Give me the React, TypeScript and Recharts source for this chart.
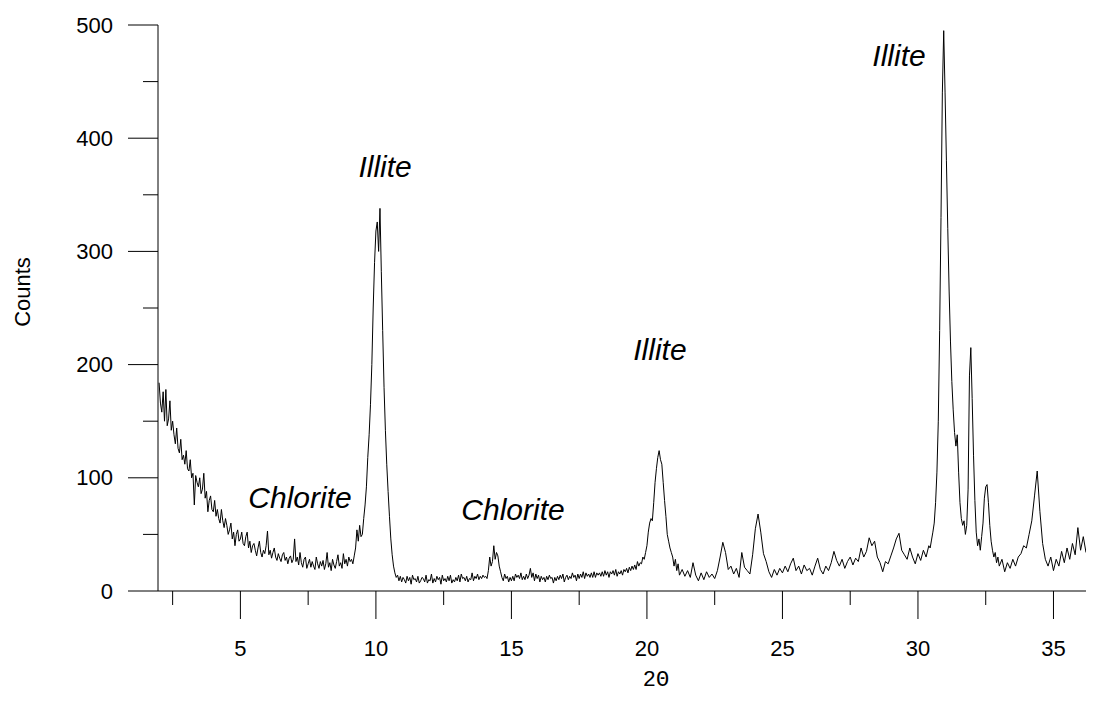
import { LineChart, Line, XAxis, YAxis, ReferenceDot } from "recharts";

// XRD scan: counts
// 0.05° steps where the trace is fuzzy or sharp, 0.1° elsewhere
const lowAngleStart = 2.0;
const lowAngleCounts = [
    184, 166, 158, 176, 150, 178, 146, 152, 168, 142,
    150, 138, 130, 144, 126, 122, 134, 116, 120, 112,
    124, 108, 106, 116, 100, 104, 76, 102, 96, 92,
    100, 86, 90, 104, 82, 88, 70, 80, 84, 72,
    70, 80, 66, 72, 64, 60, 72, 62, 56, 64,
    58, 50, 54, 60, 46, 52, 40, 50, 54, 44,
    46, 52, 42, 40, 48, 52, 38, 44, 34, 40,
    42, 36, 31, 38, 44, 34, 30, 36, 33, 40,
    53, 32, 36, 29, 34, 38, 30, 27, 33, 29,
    26, 32, 34, 27, 30, 24, 29, 31, 25, 28,
    46, 26, 30, 23, 34, 25, 21, 28, 30, 20,
    24, 28, 21, 26, 22, 19, 30, 24, 20, 26,
    22, 27, 19, 24, 34, 21, 25, 18, 28, 23,
    20, 26, 32, 22, 25, 20, 33, 24, 28, 22,
    30, 26, 28, 24, 31, 38, 54, 44, 58, 48,
];

const illite10Start = 9.5;
const illite10Counts = [
    50, 64, 76, 92, 118, 138, 165, 200, 250, 290,
    318, 326, 300, 338, 282, 230, 180, 142, 112, 88,
    66, 46, 32, 22, 16, 12, 14, 9, 13, 8, 12,
];

const midAngleStart = 11.05;
const midAngleCounts = [
    10, 7, 13, 9, 12, 6, 14, 10, 11, 8,
    13, 7, 9, 12, 11, 8, 14, 7, 10, 9,
    15, 7, 11, 8, 13, 10, 12, 6, 14, 9,
    11, 8, 13, 9, 14, 7, 10, 8, 12, 9,
    14, 8, 15, 11, 12, 9, 13, 8, 11, 10,
    16, 9, 13, 11, 15, 10, 13, 11, 14, 12,
    13, 11, 18, 30, 22, 26, 40, 28, 34, 31,
    22, 17, 12, 9, 15, 11, 13, 8, 12, 9,
    13, 9, 15, 12, 14, 11, 16, 10, 13, 10,
    15, 11, 14, 20, 12, 16, 9, 15, 11, 14,
    8, 13, 10, 12, 8, 13, 10, 14, 11, 12,
    7, 12, 9, 13, 10, 14, 11, 15, 8, 12,
    14, 10, 13, 11, 16, 12, 14, 9, 15, 11,
    15, 12, 17, 11, 16, 13, 15, 12, 16, 12,
    17, 12, 16, 14, 16, 13, 17, 13, 18, 14,
    17, 12, 17, 15, 18, 14, 19, 13, 17, 15,
    18, 14, 19, 17, 20, 16, 21, 18, 22, 19,
    23, 19, 26, 22, 25, 24, 30, 28, 34,
];

const illite20Start = 20.0;
const illite20Counts = [
    40, 52, 60, 64, 62, 78, 96, 108, 118, 124,
    116, 112, 96, 80, 66, 50, 44, 38, 34, 30,
    22, 28, 18, 24, 14,
];

const highAngleStart = 21.3;
const highAngleCounts = [
    19, 13, 18, 12, 25, 14, 9, 16, 10, 17,
    12, 15, 11, 18, 30, 43, 34, 19, 22, 15,
    20, 12, 34, 21, 18, 15, 32, 55, 68, 52,
    33, 26, 17, 12, 19, 14, 20, 16, 22, 17,
    24, 29, 18, 22, 15, 23, 18, 20, 14, 22,
    29, 19, 15, 22, 18, 25, 35, 27, 22, 28,
    20, 26, 30, 23, 29, 26, 38, 30, 35, 47,
    40, 44, 30, 25, 17, 26, 24, 31, 38, 46,
    51, 36, 32, 28, 38, 30, 24, 33, 27, 36,
    30, 40,
];

const illite31Start = 30.45;
const illite31Counts = [
    38, 45, 52, 60, 78, 105, 150, 230, 330, 440,
    495, 440, 380, 320, 265, 220, 185, 160, 140, 128,
    138, 105, 78, 64, 58, 62, 50, 58, 90, 190,
    215, 170, 120, 80, 52, 40, 46, 36, 48, 60,
    82, 92, 94, 78, 58, 44, 36, 30, 34, 25,
    30, 22,
];

const tailStart = 33.1;
const tailCounts = [
    28, 17, 25, 20, 28, 22, 30, 33, 40, 38,
    50, 62, 84, 106, 70, 42, 28, 22, 30, 18,
    28, 22, 35, 25, 38, 28, 42, 32, 56, 36,
    48, 34,
];

const segments = [
    { start: lowAngleStart, step: 0.05, counts: lowAngleCounts },
    { start: illite10Start, step: 0.05, counts: illite10Counts },
    { start: midAngleStart, step: 0.05, counts: midAngleCounts },
    { start: illite20Start, step: 0.05, counts: illite20Counts },
    { start: highAngleStart, step: 0.1, counts: highAngleCounts },
    { start: illite31Start, step: 0.05, counts: illite31Counts },
    { start: tailStart, step: 0.1, counts: tailCounts },
];

const xTicks = [2.5, 5, 7.5, 10, 12.5, 15, 17.5, 20, 22.5, 25, 27.5, 30, 32.5, 35];
const yTicks = [0, 50, 100, 150, 200, 250, 300, 350, 400, 450, 500];

const annotations = [
    { text: "Illite", x: 10.34, y: 375 },
    { text: "Illite", x: 20.48, y: 213 },
    { text: "Illite", x: 29.3, y: 473 },
    { text: "Chlorite", x: 7.2, y: 83 },
    { text: "Chlorite", x: 15.06, y: 72 },
];

const data = segments.flatMap(s =>
    s.counts.map((c, i) => ({ x: +(s.start + i * s.step).toFixed(2), y: c }))
);

const FONT = "'Liberation Sans', Arial, sans-serif";

function YTick(props: any) {
    const { x, y, payload } = props;
    const major = payload.value % 100 === 0;
    return (
        <g>
            <line x1={x - (major ? 30 : 15)} x2={x} y1={y} y2={y} stroke="#000" />
            {major &&
                <text x={x - 45} y={y} textAnchor="end" dominantBaseline="central"
                    fontFamily={FONT} fontSize={22} fill="#000">{payload.value}</text>}
        </g>
    );
}

function XTick(props: any) {
    const { x, y, payload } = props;
    const major = payload.value % 5 === 0;
    return (
        <g>
            <line x1={x} x2={x} y1={y} y2={y + (major ? 28 : 14)} stroke="#000" />
            {major &&
                <text x={x} y={y + 57} textAnchor="middle" dominantBaseline="central"
                    fontFamily={FONT} fontSize={22} fill="#000">{payload.value}</text>}
        </g>
    );
}

export default function App() {
    return (
        <div style={{ position: "absolute", left: 0, top: 0, background: "#fff" }}>
            <LineChart width={1093} height={715} data={data} margin={{ top: 25, right: 7, left: 0, bottom: 0 }}>
                <XAxis
                    type="number"
                    dataKey="x"
                    domain={[1.96, 36.2]}
                    allowDataOverflow
                    ticks={xTicks}
                    interval={0}
                    height={124}
                    tickSize={0}
                    tickMargin={0}
                    tickLine={false}
                    axisLine={{ stroke: "#000" }}
                    tick={<XTick />}
                    label={({ viewBox }: any) => (
                        <text x={viewBox.x + 498} y={viewBox.y + 89} textAnchor="middle" dominantBaseline="central"
                            fontFamily="'Liberation Mono', monospace" fontSize={22} fill="#000">2Θ</text>
                    )}
                />
                <YAxis
                    type="number"
                    domain={[0, 500]}
                    ticks={yTicks}
                    interval={0}
                    width={158}
                    tickSize={0}
                    tickMargin={0}
                    tickLine={false}
                    axisLine={{ stroke: "#000" }}
                    tick={<YTick />}
                    label={({ viewBox }: any) => (
                        <text x={viewBox.x + 22} y={viewBox.y + 267} textAnchor="middle" dominantBaseline="central"
                            transform={`rotate(-90 ${viewBox.x + 22} ${viewBox.y + 267})`}
                            fontFamily={FONT} fontSize={22} fill="#000">Counts</text>
                    )}
                />
                <Line
                    type="linear"
                    dataKey="y"
                    stroke="#000"
                    strokeWidth={1}
                    dot={false}
                    isAnimationActive={false}
                />
                {annotations.map((a, i) => (
                    <ReferenceDot
                        key={i}
                        x={a.x}
                        y={a.y}
                        r={0}
                        fill="none"
                        stroke="none"
                        label={({ viewBox }: any) => (
                            <text x={viewBox.x} y={viewBox.y} textAnchor="middle" dominantBaseline="central"
                                fontFamily={FONT} fontStyle="italic" fontSize={30} fill="#000">{a.text}</text>
                        )}
                    />
                ))}
            </LineChart>
        </div>
    );
}
